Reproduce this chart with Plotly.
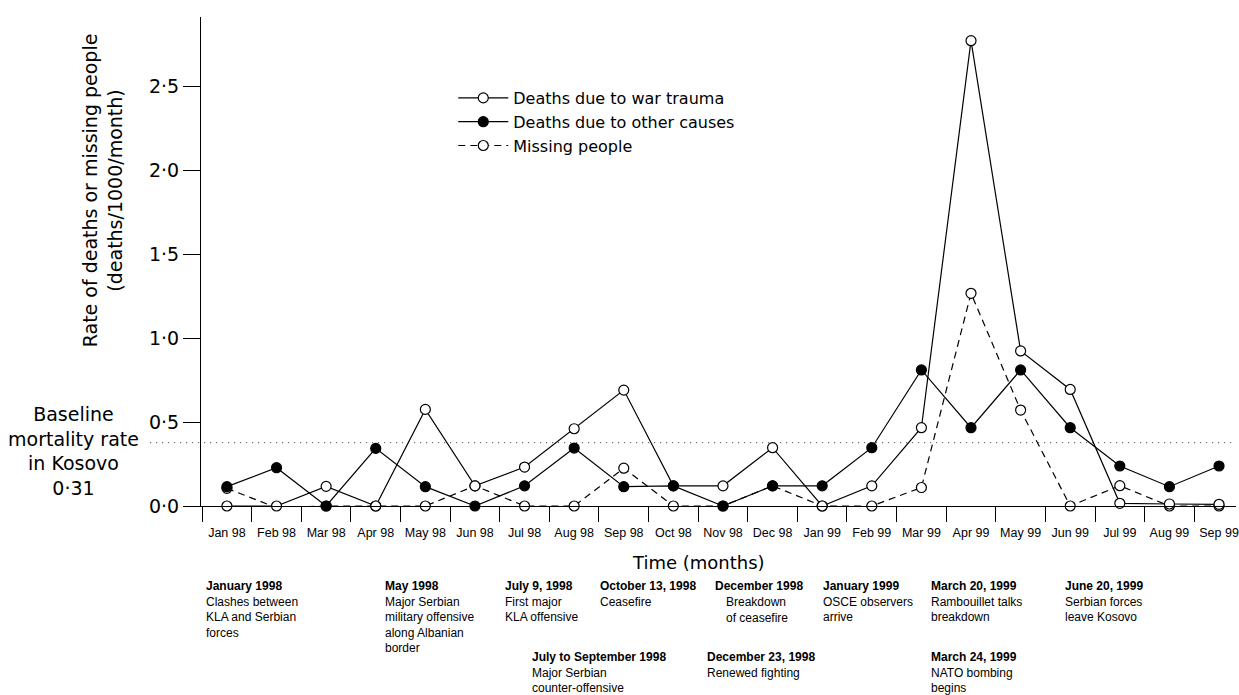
import plotly.graph_objects as go

# ---------------- data ----------------
months = ["Jan 98", "Feb 98", "Mar 98", "Apr 98", "May 98", "Jun 98", "Jul 98",
          "Aug 98", "Sep 98", "Oct 98", "Nov 98", "Dec 98", "Jan 99", "Feb 99",
          "Mar 99", "Apr 99", "May 99", "Jun 99", "Jul 99", "Aug 99", "Sep 99"]

war_trauma = [0.0, 0.0, 0.117, 0.0, 0.575, 0.12, 0.232, 0.46, 0.69, 0.12, 0.12,
              0.347, 0.0, 0.12, 0.466, 2.77, 0.923, 0.694, 0.016, 0.012, 0.01]

other_causes = [0.115, 0.228, 0.0, 0.343, 0.115, 0.0, 0.12, 0.345, 0.115, 0.12, 0.0,
                0.12, 0.12, 0.347, 0.81, 0.466, 0.81, 0.466, 0.238, 0.115, 0.238]

missing_people = [0.105, -0.01, 0.0, 0.0, 0.0, 0.12, 0.0, 0.0, 0.225, 0.0, 0.0,
                  0.12, 0.0, 0.0, 0.11, 1.266, 0.571, 0.0, 0.121, 0.0, 0.0]

series_names = ["Deaths due to war trauma", "Deaths due to other causes", "Missing people"]

y_tick_values = [0.0, 0.5, 1.0, 1.5, 2.0, 2.5]
y_tick_labels = ["0·0", "0·5", "1·0", "1·5", "2·0", "2·5"]

baseline_level = 0.377          # where the dotted baseline is drawn
baseline_text = ["Baseline", "mortality rate", "in Kosovo", "0·31"]

y_title_lines = ["Rate of deaths or missing people", "(deaths/1000/month)"]
x_title = "Time (months)"

event_headers = ["January 1998", "May 1998", "July 9, 1998", "October 13, 1998",
                 "December 1998", "January 1999", "March 20, 1999", "June 20, 1999",
                 "July to September 1998", "December 23, 1998", "March 24, 1999"]
event_bodies = [["Clashes between", "KLA and Serbian", "forces"],
                ["Major Serbian", "military offensive", "along Albanian", "border"],
                ["First major", "KLA offensive"],
                ["Ceasefire"],
                ["Breakdown", "of ceasefire"],
                ["OSCE observers", "arrive"],
                ["Rambouillet talks", "breakdown"],
                ["Serbian forces", "leave Kosovo"],
                ["Major Serbian", "counter-offensive"],
                ["Renewed fighting"],
                ["NATO bombing", "begins"]]

# ---------------- layout geometry (pixels) ----------------
W, H = 1239, 695
L, R, T, B = 201, 0, 17, 189
PW, PH = W - L - R, H - T - B
Y_MAX = 2.911
X_RANGE = [-0.5226, 20.342]


def px(xp):
    return (xp - L) / PW


def py(yp):
    return (H - B - yp) / PH


# event annotation positions: (left x, top y, body indent)
event_pos = [(205, 578, 0), (385, 578, 0), (505, 578, 0), (600, 578, 0),
             (715, 578, 12), (824, 578, 0), (932, 578, 0), (1067, 578, 0),
             (532, 649, 0), (707, 649, 0), (932, 649, 0)]

SANS = "DejaVu Sans"
NARROW = "Liberation Sans"
LW = 1.2

x = list(range(len(months)))

fig = go.Figure()

# drawing order: missing (bottom), war trauma, other causes (top)
fig.add_trace(go.Scatter(
    x=x, y=missing_people, name=series_names[2], mode="lines+markers",
    line=dict(color="black", width=LW, dash="7px,5px"),
    marker=dict(symbol="circle", size=10, color="white",
                line=dict(color="black", width=LW)),
    cliponaxis=False, legendrank=3))
fig.add_trace(go.Scatter(
    x=x, y=war_trauma, name=series_names[0], mode="lines+markers",
    line=dict(color="black", width=LW),
    marker=dict(symbol="circle", size=10, color="white",
                line=dict(color="black", width=LW)),
    cliponaxis=False, legendrank=1))
fig.add_trace(go.Scatter(
    x=x, y=other_causes, name=series_names[1], mode="lines+markers",
    line=dict(color="black", width=LW),
    marker=dict(symbol="circle", size=10, color="black",
                line=dict(color="black", width=LW)),
    cliponaxis=False, legendrank=2))

annotations = []

# y-axis title
annotations.append(dict(
    text="<br>".join(y_title_lines), xref="paper", yref="paper",
    x=px(102.5), y=py(190.5), xanchor="center", yanchor="middle",
    textangle=-90, showarrow=False, font=dict(family=SANS, size=19, color="black")))

# x-axis title
annotations.append(dict(
    text=x_title, xref="paper", yref="paper", x=px(700), y=py(562),
    xanchor="center", yanchor="middle", showarrow=False,
    font=dict(family=SANS, size=18, color="black")))

# baseline label
annotations.append(dict(
    text="<br>".join(baseline_text), xref="paper", yref="paper",
    x=px(73), y=py(450.5), xanchor="center", yanchor="middle", align="center",
    showarrow=False, font=dict(family=SANS, size=19, color="black")))

# event annotations
for head, body, (ex, ey, indent) in zip(event_headers, event_bodies, event_pos):
    if indent == 0:
        annotations.append(dict(
            text="<b>" + head + "</b><br>" + "<br>".join(body),
            xref="paper", yref="paper", x=px(ex), y=py(ey),
            xanchor="left", yanchor="top", align="left", showarrow=False,
            borderpad=0, font=dict(family=NARROW, size=12, color="black")))
    else:
        annotations.append(dict(
            text="<b>" + head + "</b>", xref="paper", yref="paper",
            x=px(ex), y=py(ey), xanchor="left", yanchor="top", align="left",
            showarrow=False, borderpad=0,
            font=dict(family=NARROW, size=12, color="black")))
        annotations.append(dict(
            text="<br>".join(body), xref="paper", yref="paper",
            x=px(ex + indent), y=py(ey + 15.6), xanchor="left", yanchor="top",
            align="left", showarrow=False, borderpad=0,
            font=dict(family=NARROW, size=12, color="black")))

shapes = [dict(
    type="line", xref="paper", yref="paper",
    x0=px(150), x1=1.0, y0=baseline_level / Y_MAX, y1=baseline_level / Y_MAX,
    line=dict(color="#333333", width=1, dash="1px,5px"), layer="below")]

fig.update_layout(
    width=W, height=H, autosize=False,
    margin=dict(l=L, r=R, t=T, b=B, pad=0),
    paper_bgcolor="white", plot_bgcolor="white",
    showlegend=True,
    legend=dict(x=px(454), y=py(81), xanchor="left", yanchor="top",
                bgcolor="rgba(0,0,0,0)", borderwidth=0, itemwidth=50,
                font=dict(family=SANS, size=16, color="black"),
                traceorder="normal"),
    annotations=annotations,
    shapes=shapes,
    xaxis=dict(
        range=X_RANGE, tickmode="array", tickvals=x, ticktext=months,
        ticks="outside", ticklen=15, tickcolor="rgba(0,0,0,0)",
        ticklabeloverflow="allow",
        tickfont=dict(family=NARROW, size=12.5, color="black"),
        showline=True, linecolor="black", linewidth=LW,
        showgrid=False, zeroline=False, fixedrange=True,
        minor=dict(tickmode="array", tickvals=[i - 0.5 for i in x],
                   ticks="outside", ticklen=15, tickcolor="black",
                   tickwidth=LW, showgrid=False)),
    yaxis=dict(
        range=[0, Y_MAX], tickmode="array", tickvals=y_tick_values,
        ticktext=y_tick_labels, ticks="outside", ticklen=17, tickwidth=LW,
        tickcolor="black", tickfont=dict(family=SANS, size=19, color="black"),
        showline=True, linecolor="black", linewidth=LW,
        showgrid=False, zeroline=False, fixedrange=True),
)

fig.write_html("out.html", post_script="document.body.style.margin='0';",
               config={"displayModeBar": False})
